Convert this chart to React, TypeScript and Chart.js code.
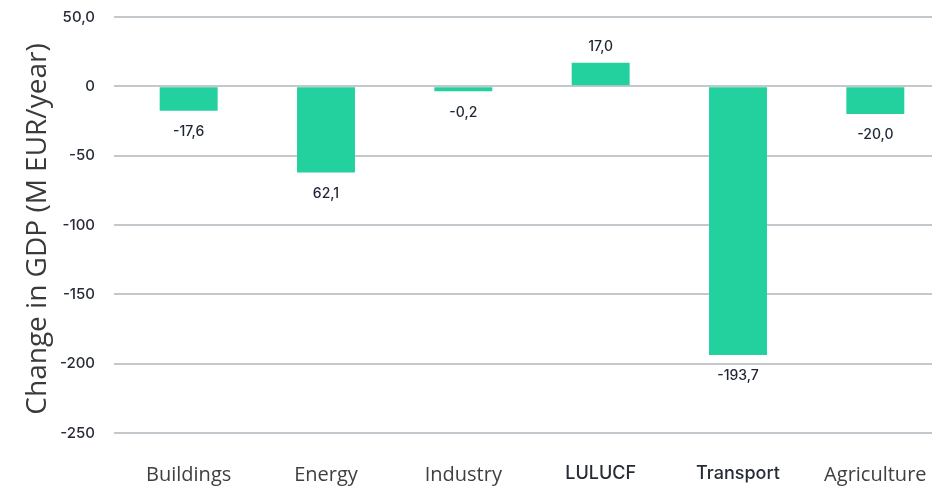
import React, { useEffect, useRef } from "react";
import { Chart, registerables } from "chart.js";

Chart.register(...registerables);

const categories = ["Buildings", "Energy", "Industry", "LULUCF", "Transport", "Agriculture"];
const gdpChange = [-17.6, -62.1, -0.2, 17.0, -193.7, -20.0];
const valueLabels = ["-17,6", "62,1", "-0,2", "17,0", "-193,7", "-20,0"];
const yTicks = [50, 0, -50, -100, -150, -200, -250];
const yTickLabels = ["50,0", "0", "-50", "-100", "-150", "-200", "-250"];
const yTitle = "Change in GDP (M EUR/year)";
const altFontCategories = ["LULUCF", "Transport"];

const BAR = "#22D19E";

const valueLabelPlugin = {
  id: "valueLabels",
  afterDatasetsDraw(chart: any) {
    const ctx = chart.ctx;
    const meta = chart.getDatasetMeta(0);
    ctx.save();
    ctx.font = "500 14px Inter";
    ctx.fillStyle = "#1f2633";
    ctx.textAlign = "center";
    ctx.textBaseline = "middle";
    meta.data.forEach((el: any, i: number) => {
      const v = gdpChange[i];
      const y = v >= 0 ? el.y - 16 : el.y + 21;
      ctx.fillText(valueLabels[i], el.x, y);
    });
    ctx.restore();
  },
};

const titlePlugin = {
  id: "yTitleCustom",
  afterDraw(chart: any) {
    const ctx = chart.ctx;
    const area = chart.chartArea;
    ctx.save();
    ctx.translate(46, (area.top + area.bottom) / 2 + 4);
    ctx.rotate(-Math.PI / 2);
    ctx.font = "28px 'Open Sans'";
    ctx.fillStyle = "#3a3a3a";
    ctx.textAlign = "center";
    ctx.textBaseline = "alphabetic";
    ctx.fillText(yTitle, 0, 0);
    ctx.restore();
  },
};

export default function App() {
  const ref = useRef<HTMLCanvasElement | null>(null);

  useEffect(() => {
    if (!ref.current) return;
    const chart = new Chart(ref.current, {
      type: "bar",
      data: {
        labels: categories,
        datasets: [
          {
            data: gdpChange,
            backgroundColor: BAR,
            borderWidth: 0,
            barPercentage: 0.422,
            categoryPercentage: 1,
            minBarLength: 5,
          },
        ],
      },
      options: {
        responsive: false,
        animation: false,
        devicePixelRatio: 1,
        layout: { padding: { top: 17, right: 0, bottom: 0, left: 0 } },
        plugins: {
          legend: { display: false },
          tooltip: { enabled: false },
          title: { display: false },
        },
        scales: {
          x: {
            grid: { display: false },
            border: { display: false },
            ticks: {
              padding: 22,
              maxRotation: 0,
              autoSkip: false,
              font: (c: any) => {
                const lbl = categories[c.index];
                return altFontCategories.includes(lbl)
                  ? { family: "Inter", size: 18, weight: "500" }
                  : { family: "'Open Sans'", size: 20, weight: "400" };
              },
              color: (c: any) =>
                altFontCategories.includes(categories[c.index]) ? "#262b36" : "#404040",
            },
            afterFit: (s: any) => {
              s.height = 55;
              s.paddingLeft = 0;
              s.paddingRight = 0;
            },
          },
          y: {
            min: -250,
            max: 50,
            afterBuildTicks: (s: any) => {
              s.ticks = yTicks.map((v) => ({ value: v }));
            },
            ticks: {
              padding: 19,
              font: { family: "Inter", size: 15, weight: "500" },
              color: "#262b36",
              callback: (v: any) => {
                const i = yTicks.indexOf(Number(v));
                return i >= 0 ? yTickLabels[i] : "";
              },
            },
            grid: {
              color: "#c2c8cc",
              lineWidth: 2,
              drawTicks: true,
              tickLength: 6,
            },
            border: { display: false },
            afterFit: (s: any) => {
              s.width = 120;
              s.paddingTop = 0;
              s.paddingBottom = 0;
            },
          },
        },
      },
      plugins: [valueLabelPlugin, titlePlugin],
    });
    return () => chart.destroy();
  }, []);

  return (
    <div
      style={{
        position: "fixed",
        left: 0,
        top: 0,
        width: 932,
        height: 488,
        overflow: "hidden",
        background: "#ffffff",
      }}
    >
      <canvas ref={ref} width={944} height={488} style={{ display: "block" }} />
    </div>
  );
}
